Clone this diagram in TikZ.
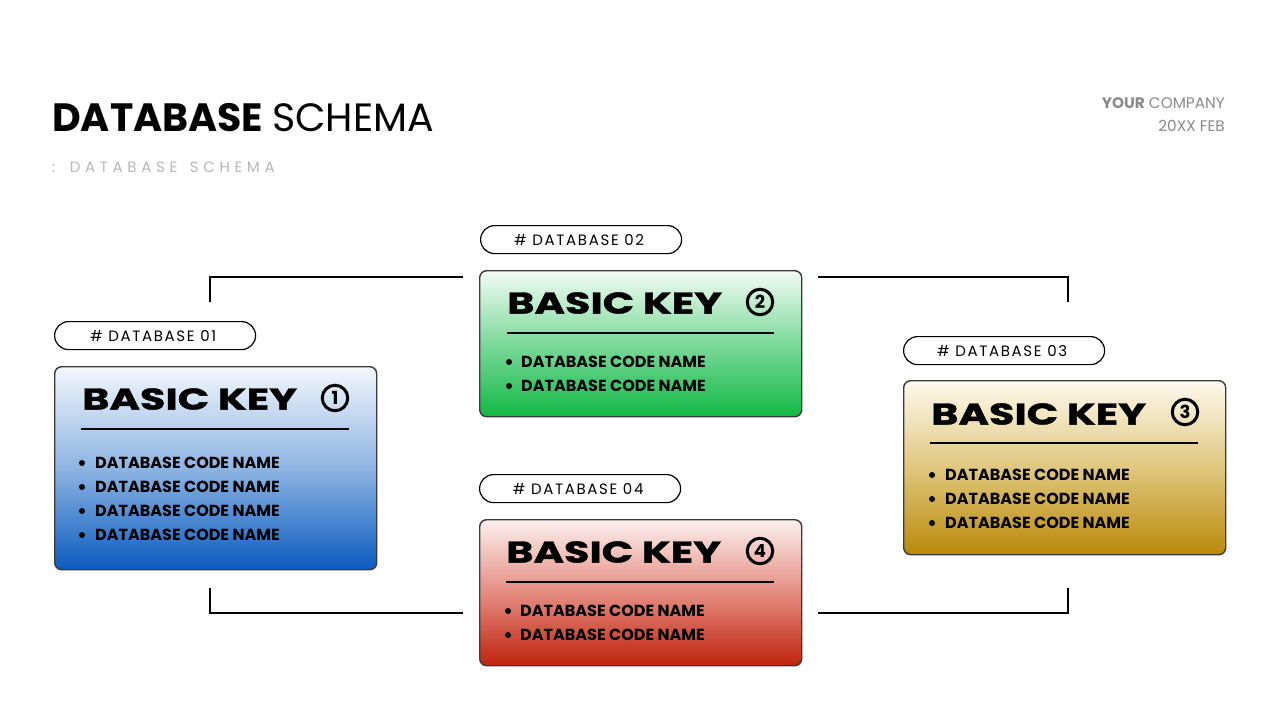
\documentclass[tikz,border=0pt]{standalone}
\usepackage{fontspec}
\setmainfont{Poppins}
\usetikzlibrary{calc}
\definecolor{bordc}{HTML}{3A3A3A}
\definecolor{blueT}{HTML}{F4F7FC}
\definecolor{blueM}{HTML}{8DB4E2}
\definecolor{blueB}{HTML}{0B5BC0}
\definecolor{greenT}{HTML}{F3FBF5}
\definecolor{greenM}{HTML}{7CD99A}
\definecolor{greenB}{HTML}{12B845}
\definecolor{goldT}{HTML}{FDF9EE}
\definecolor{goldM}{HTML}{E0C77E}
\definecolor{goldB}{HTML}{B98908}
\definecolor{redT}{HTML}{FCF0EF}
\definecolor{redM}{HTML}{E48C80}
\definecolor{redB}{HTML}{C0220C}
\definecolor{subgray}{HTML}{B8B8B8}
\definecolor{compgray}{HTML}{8A8A8A}
\tikzset{
  card/.style={draw=bordc, line width=1.4pt, rounded corners=7pt, anchor=north west,
    minimum width=322pt, inner sep=0pt},
  pill/.style={draw=black, line width=1.2pt, rounded corners=14pt, anchor=north west,
    minimum width=201pt, minimum height=28pt, inner sep=0pt},
  pilltext/.style={font=\fontsize{15}{15}\selectfont\addfontfeatures{LetterSpace=11}},
  keytext/.style={anchor=west, inner sep=0pt, font=\fontsize{30}{30}\selectfont\bfseries\addfontfeatures{FakeBold=1.2}},
  numc/.style={circle, draw=black, line width=3pt, minimum size=25.5pt, inner sep=0pt,
    font=\fontsize{18}{18}\selectfont\bfseries},
  rule/.style={line width=1.8pt, black},
  itemtext/.style={anchor=west, inner sep=0pt, font=\fontsize{16}{16}\selectfont\bfseries},
  bul/.style={circle, fill=black, inner sep=0pt, minimum size=6pt},
  conn/.style={line width=2pt, black}
}
\newcommand{\keylabel}[1]{\scalebox{1.38}[1]{#1}}
\begin{document}
\begin{tikzpicture}[x=1pt,y=-1pt]
\useasboundingbox (0,0) rectangle (1280,720);
\fill[white] (0,0) rectangle (1280,720);

% title
\node[anchor=base west, inner sep=0pt, font=\fontsize{39.5}{39.5}\selectfont] (title) at (52,131)
  {\textbf{DATABASE}\hspace{9pt}SCHEMA};
\node[anchor=base west, inner sep=0pt, text=subgray, font=\fontsize{15}{15}\selectfont\addfontfeatures{LetterSpace=31}] (subtitle) at (52,172)
  {:\hspace{3pt} DATABASE\hspace{4pt} SCHEMA};
\node[anchor=base east, inner sep=0pt, text=compgray, font=\fontsize{15.3}{15.3}\selectfont] (comp) at (1225,108)
  {\textbf{YOUR} COMPANY};
\node[anchor=base east, inner sep=0pt, text=compgray, font=\fontsize{15.3}{15.3}\selectfont] (date) at (1225,131)
  {20XX FEB};

% connectors
\coordinate (tla) at (210,302); \coordinate (tlb) at (463,277);
\coordinate (tra) at (818,277); \coordinate (trb) at (1068,302);
\coordinate (bla) at (210,588); \coordinate (blb) at (463,613);
\coordinate (bra) at (818,613); \coordinate (brb) at (1068,588);
\draw[conn] (tla) |- (tlb);
\draw[conn] (tra) -| (trb);
\draw[conn] (bla) |- (blb);
\draw[conn] (bra) -| (brb);

% ---------- card 1 (blue)
\node[pill] (p1) at (54,321) {};
\node[pilltext] (p1t) at ($(p1.center)+(-2,0.5)$) {\# DATABASE 01};
\node[card, minimum height=203pt, top color=blueT, bottom color=blueB, middle color=blueM] (b1) at (54,366) {};
\node[keytext] (k1) at (82,399) {\keylabel{BASIC KEY}};
\node[numc] (n1) at (335,398) {1};
\draw[rule] (81,429) -- (349,429);
\foreach \yy [count=\i] in {463,487,511,535}{
  \node[bul] (b1d\i) at (82,\yy) {};
  \node[itemtext] (b1i\i) at (95,\yy) {DATABASE CODE NAME};
}

% ---------- card 2 (green)
\node[pill] (p2) at (480,225) {};
\node[pilltext] (p2t) at ($(p2.center)+(-2,0.5)$) {\# DATABASE 02};
\node[card, minimum height=146pt, top color=greenT, bottom color=greenB, middle color=greenM] (b2) at (479,270) {};
\node[keytext] (k2) at (507,303) {\keylabel{BASIC KEY}};
\node[numc] (n2) at (760,302) {2};
\draw[rule] (507,333) -- (774,333);
\foreach \yy [count=\i] in {362,386}{
  \node[bul] (b2d\i) at (509,\yy) {};
  \node[itemtext] (b2i\i) at (521,\yy) {DATABASE CODE NAME};
}

% ---------- card 3 (gold)
\node[pill] (p3) at (903,336) {};
\node[pilltext] (p3t) at ($(p3.center)+(-2,0.5)$) {\# DATABASE 03};
\node[card, minimum height=174pt, top color=goldT, bottom color=goldB, middle color=goldM] (b3) at (903,380) {};
\node[keytext] (k3) at (931,414) {\keylabel{BASIC KEY}};
\node[numc] (n3) at (1185,412) {3};
\draw[rule] (930,443) -- (1198,443);
\foreach \yy [count=\i] in {475,499,523}{
  \node[bul] (b3d\i) at (932,\yy) {};
  \node[itemtext] (b3i\i) at (945,\yy) {DATABASE CODE NAME};
}

% ---------- card 4 (red)
\node[pill] (p4) at (479,474) {};
\node[pilltext] (p4t) at ($(p4.center)+(-2,0.5)$) {\# DATABASE 04};
\node[card, minimum height=146pt, top color=redT, bottom color=redB, middle color=redM] (b4) at (479,519) {};
\node[keytext] (k4) at (506,552) {\keylabel{BASIC KEY}};
\node[numc] (n4) at (760,551) {4};
\draw[rule] (506,582) -- (774,582);
\foreach \yy [count=\i] in {611,635}{
  \node[bul] (b4d\i) at (508,\yy) {};
  \node[itemtext] (b4i\i) at (520,\yy) {DATABASE CODE NAME};
}
\end{tikzpicture}
\end{document}
